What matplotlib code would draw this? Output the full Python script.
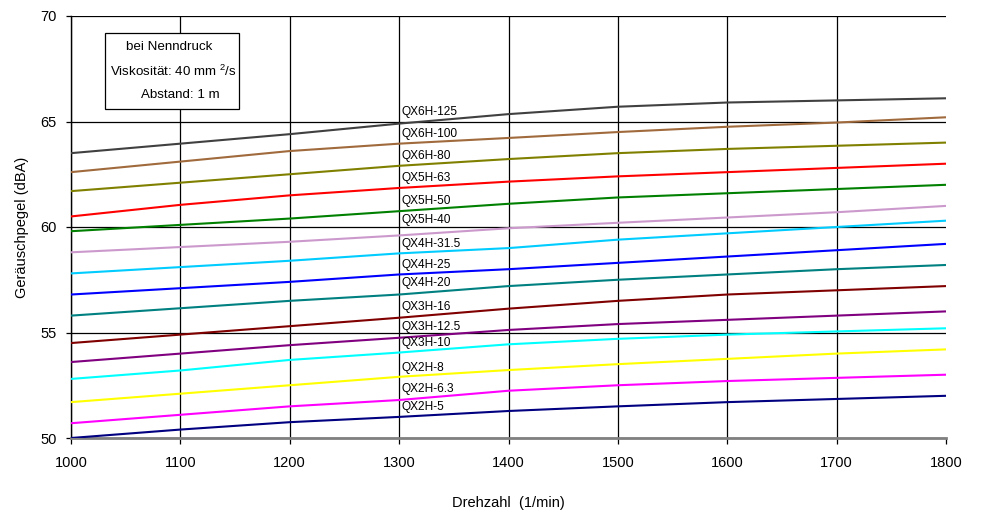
import matplotlib
matplotlib.use("Agg")
import matplotlib.pyplot as plt
from matplotlib.patches import Rectangle

plt.rcParams['font.family'] = ['Liberation Sans', 'DejaVu Sans']
plt.rcParams['mathtext.fontset'] = 'custom'
plt.rcParams['mathtext.rm'] = 'Liberation Sans'
plt.rcParams['mathtext.default'] = 'regular'

# ---- data ----
speed = [1000, 1100, 1200, 1300, 1400, 1500, 1600, 1700, 1800]
labels = ["QX6H-125", "QX6H-100", "QX6H-80", "QX5H-63", "QX5H-50", "QX5H-40",
          "QX4H-31.5", "QX4H-25", "QX4H-20", "QX3H-16", "QX3H-12.5", "QX3H-10",
          "QX2H-8", "QX2H-6.3", "QX2H-5"]
qx6h_125 = [63.5, 63.95, 64.4, 64.9, 65.35, 65.7, 65.9, 66.0, 66.1]
qx6h_100 = [62.6, 63.1, 63.6, 63.95, 64.22, 64.5, 64.75, 64.95, 65.2]
qx6h_80 = [61.7, 62.1, 62.5, 62.9, 63.22, 63.5, 63.7, 63.85, 64.0]
qx5h_63 = [60.5, 61.05, 61.5, 61.85, 62.15, 62.4, 62.6, 62.8, 63.0]
qx5h_50 = [59.8, 60.1, 60.4, 60.75, 61.1, 61.4, 61.6, 61.8, 62.0]
qx5h_40 = [58.8, 59.05, 59.3, 59.6, 59.94, 60.2, 60.45, 60.7, 61.0]
qx4h_31_5 = [57.8, 58.1, 58.4, 58.75, 59.0, 59.4, 59.7, 60.0, 60.3]
qx4h_25 = [56.8, 57.1, 57.4, 57.75, 58.0, 58.3, 58.6, 58.9, 59.2]
qx4h_20 = [55.8, 56.15, 56.5, 56.8, 57.2, 57.5, 57.75, 58.0, 58.2]
qx3h_16 = [54.5, 54.9, 55.3, 55.7, 56.13, 56.5, 56.8, 57.0, 57.2]
qx3h_12_5 = [53.6, 54.0, 54.4, 54.75, 55.12, 55.4, 55.6, 55.8, 56.0]
qx3h_10 = [52.8, 53.2, 53.7, 54.05, 54.44, 54.7, 54.9, 55.05, 55.2]
qx2h_8 = [51.7, 52.1, 52.5, 52.9, 53.22, 53.5, 53.75, 54.0, 54.2]
qx2h_6_3 = [50.7, 51.1, 51.5, 51.8, 52.24, 52.5, 52.7, 52.85, 53.0]
qx2h_5 = [50.0, 50.4, 50.75, 51.0, 51.28, 51.5, 51.7, 51.85, 52.0]
series = [qx6h_125, qx6h_100, qx6h_80, qx5h_63, qx5h_50, qx5h_40, qx4h_31_5,
          qx4h_25, qx4h_20, qx3h_16, qx3h_12_5, qx3h_10, qx2h_8, qx2h_6_3, qx2h_5]
x_ticks = [1000, 1100, 1200, 1300, 1400, 1500, 1600, 1700, 1800]
y_ticks = [50, 55, 60, 65, 70]

# ---- style ----
colors = ["#404040", "#A06A3C", "#808000", "#FF0000", "#008000", "#CC99CC",
          "#00CCFF", "#0000FF", "#008080", "#800000", "#800080", "#00FFFF",
          "#FFFF00", "#FF00FF", "#000080"]
label_offsets = [8, 7, 7, 7, 7, 11, 7, 7, 8, 8, 8, 7, 6, 8, 7]

fig = plt.figure(figsize=(9.81, 5.18), dpi=100)
ax = fig.add_axes([71/981, 1-438/518, (946-71)/981, (438-16)/518])

for vals, c in zip(series, colors):
    ax.plot(speed, vals, color=c, lw=1.5, solid_capstyle='butt', zorder=3)

label_x = speed[3]
for lab, vals, off in zip(labels, series, label_offsets):
    ax.annotate(lab, xy=(label_x, vals[3]), xytext=(1.5, off),
                textcoords='offset points', fontsize=8.6, va='center', ha='left',
                zorder=4)

ax.set_xlim(1000, 1800)
ax.set_ylim(50, 70)
ax.set_xticks(x_ticks)
ax.set_yticks(y_ticks)
ax.grid(True, color='black', lw=0.9, zorder=1)
ax.set_axisbelow(True)
ax.get_xgridlines()[-1].set_visible(False)

for s in ['top', 'right']:
    ax.spines[s].set_visible(False)
ax.spines['left'].set_color('black')
ax.spines['left'].set_linewidth(1.0)
ax.spines['bottom'].set_color('#808080')
ax.spines['bottom'].set_linewidth(2.0)
ax.tick_params(axis='y', direction='out', length=3.5, width=0.9, labelsize=10.5, pad=7)
ax.tick_params(axis='x', direction='out', length=4, width=0.9, labelsize=10.5, pad=9)

ax.set_xlabel("Drehzahl  (1/min)", fontsize=10.5, labelpad=19)
ax.set_ylabel("Geräuschpegel (dBA)", fontsize=10.5, labelpad=8)

# info box
box = Rectangle((105/981, 1-109/518), (239-105)/981, (109-33)/518,
                transform=fig.transFigure, facecolor='white', edgecolor='black',
                lw=0.9, zorder=5)
fig.patches.append(box)
fig.text(169/981, 1-47/518, "bei Nenndruck", fontsize=9.6, ha='center', va='center', zorder=6)
fig.text(173/981, 1-71/518, "Viskosität: 40 mm $^{2}$/s", fontsize=9.6, ha='center', va='center', zorder=6)
fig.text(180/981, 1-95/518, "Abstand: 1 m", fontsize=9.6, ha='center', va='center', zorder=6)

fig.savefig("out.png", dpi=100)
